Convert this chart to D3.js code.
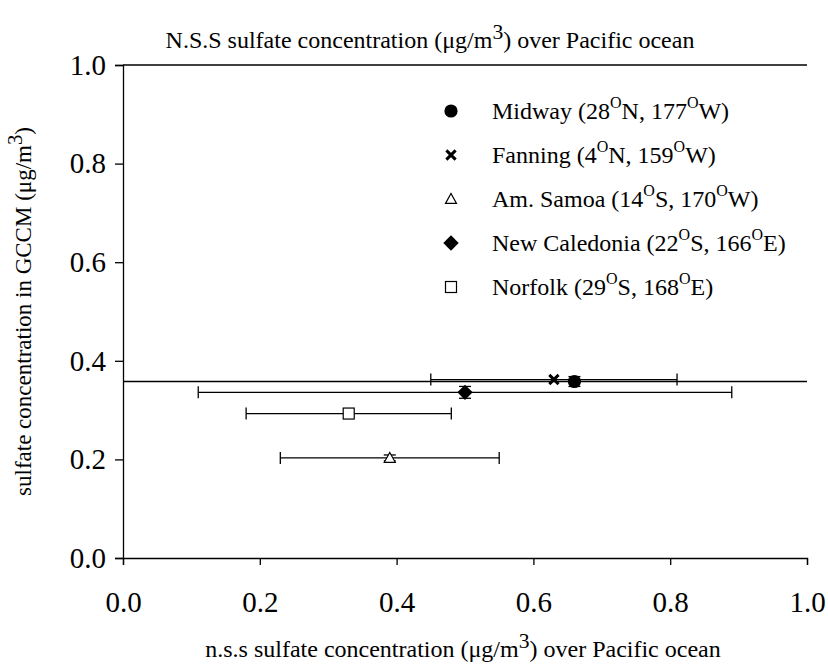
<!DOCTYPE html>
<html>
<head>
<meta charset="utf-8">
<script src="https://cdn.jsdelivr.net/npm/d3@7"></script>
<style>
  body { margin: 0; background: #fff; }
  text { font-family: "Liberation Serif", "Times New Roman", serif !important; }
</style>
</head>
<body>
<svg id="chart"></svg>
<script>
const width = 828;
const height = 670;
const plotLeft = 123, plotRight = 807, plotTop = 65, plotBottom = 558;
const serif = '"Liberation Serif", "Times New Roman", serif';

// sites
const siteNames = ['Midway', 'Fanning', 'Am. Samoa', 'New Caledonia', 'Norfolk'];
const latValues = ['28', '4', '14', '22', '29'];
const latDirs = ['N', 'N', 'S', 'S', 'S'];
const lonValues = ['177', '159', '170', '166', '168'];
const lonDirs = ['W', 'W', 'W', 'E', 'E'];
const markerTypes = ['circle', 'cross', 'triangle', 'diamond', 'square'];

// observed (x) vs model (y)
const observed = [0.66, 0.63, 0.39, 0.50, 0.33];
const modelled = [0.358, 0.362, 0.203, 0.336, 0.293];
const obsLow = [null, 0.45, 0.23, 0.11, 0.18];
const obsHigh = [null, 0.81, 0.55, 0.89, 0.48];
const modelErr = [0.010, 0, 0.006, 0.012, 0];
const refLevel = 0.358;

const xTicks = [0, 0.2, 0.4, 0.6, 0.8, 1.0];
const yTicks = [0, 0.2, 0.4, 0.6, 0.8, 1.0];

const svg = d3.select('#chart').attr('width', width).attr('height', height)
  .attr('font-family', serif);

const x = d3.scaleLinear().domain([0, 1]).range([plotLeft, plotRight]);
const y = d3.scaleLinear().domain([0, 1]).range([plotBottom, plotTop]);

const data = siteNames.map((name, i) => ({
  name, lat: latValues[i], latDir: latDirs[i], lon: lonValues[i], lonDir: lonDirs[i],
  type: markerTypes[i], ox: observed[i], my: modelled[i],
  lo: obsLow[i], hi: obsHigh[i], ye: modelErr[i]
}));

// axes
const xAxis = svg.append('g').attr('transform', `translate(0, ${plotBottom})`)
  .call(d3.axisBottom(x).tickValues(xTicks).tickFormat(d3.format('.1f')).tickSizeOuter(0).tickSize(7).tickPadding(26));
const yAxis = svg.append('g').attr('transform', `translate(${plotLeft}, 0)`)
  .call(d3.axisLeft(y).tickValues(yTicks).tickFormat(d3.format('.1f')).tickSizeOuter(0).tickSize(8).tickPadding(9));
[xAxis, yAxis].forEach(a => {
  a.attr('font-family', serif).attr('font-size', 29);
  a.selectAll('path, line').attr('stroke', '#000').attr('stroke-width', 1.3);
});

// top frame line
svg.append('line')
  .attr('x1', x(0)).attr('x2', x(1)).attr('y1', y(1)).attr('y2', y(1))
  .attr('stroke', '#000').attr('stroke-width', 1.5);

// reference level
svg.append('line')
  .attr('x1', x(0)).attr('x2', x(1)).attr('y1', y(refLevel)).attr('y2', y(refLevel))
  .attr('stroke', '#000').attr('stroke-width', 1.5);

// horizontal error bars
const capH = 6;
const eb = svg.append('g').attr('stroke', '#000').attr('stroke-width', 1.3);
data.filter(d => d.lo !== null).forEach(d => {
  eb.append('line').attr('x1', x(d.lo)).attr('x2', x(d.hi)).attr('y1', y(d.my)).attr('y2', y(d.my));
  eb.append('line').attr('x1', x(d.lo)).attr('x2', x(d.lo)).attr('y1', y(d.my) - capH).attr('y2', y(d.my) + capH);
  eb.append('line').attr('x1', x(d.hi)).attr('x2', x(d.hi)).attr('y1', y(d.my) - capH).attr('y2', y(d.my) + capH);
});
// small vertical error bars
data.filter(d => d.ye > 0).forEach(d => {
  const cx = x(d.ox);
  eb.append('line').attr('x1', cx).attr('x2', cx).attr('y1', y(d.my - d.ye)).attr('y2', y(d.my + d.ye));
  [d.my - d.ye, d.my + d.ye].forEach(v => {
    eb.append('line').attr('x1', cx - 6).attr('x2', cx + 6).attr('y1', y(v)).attr('y2', y(v));
  });
});

function drawMarker(g, type, cx, cy, s) {
  if (type === 'circle') {
    g.append('circle').attr('cx', cx).attr('cy', cy).attr('r', s * 0.6).attr('fill', '#000');
  } else if (type === 'cross') {
    const h = s * 0.42;
    g.append('path').attr('d', `M${cx - h},${cy - h}L${cx + h},${cy + h}M${cx - h},${cy + h}L${cx + h},${cy - h}`)
      .attr('stroke', '#000').attr('stroke-width', 3).attr('fill', 'none');
  } else if (type === 'triangle') {
    const h = s * 0.5;
    g.append('path').attr('d', `M${cx},${cy - h}L${cx + h},${cy + h * 0.8}L${cx - h},${cy + h * 0.8}Z`)
      .attr('stroke', '#000').attr('stroke-width', 1.2).attr('fill', '#fff');
  } else if (type === 'diamond') {
    const h = s * 0.7;
    g.append('path').attr('d', `M${cx},${cy - h}L${cx + h},${cy}L${cx},${cy + h}L${cx - h},${cy}Z`).attr('fill', '#000');
  } else if (type === 'square') {
    const h = s * 0.5;
    g.append('rect').attr('x', cx - h).attr('y', cy - h).attr('width', 2 * h).attr('height', 2 * h)
      .attr('stroke', '#000').attr('stroke-width', 1.2).attr('fill', '#fff');
  }
}

const points = svg.append('g');
data.forEach(d => drawMarker(points, d.type, x(d.ox), y(d.my), 11));

// legend
const legend = svg.append('g').attr('font-size', 24);
const legX = 451, legY = 111, legStep = 44;
data.forEach((d, i) => {
  const ly = legY + i * legStep;
  drawMarker(legend, d.type, legX, ly, 11);
  const t = legend.append('text').attr('x', legX + 41).attr('y', ly + 8);
  t.append('tspan').text(`${d.name} (${d.lat}`);
  t.append('tspan').attr('dy', -11).attr('font-size', 16).text('O');
  t.append('tspan').attr('dy', 11).text(`${d.latDir}, ${d.lon}`);
  t.append('tspan').attr('dy', -11).attr('font-size', 16).text('O');
  t.append('tspan').attr('dy', 11).text(`${d.lonDir})`);
});

// titles
function supTitle(sel, before, sup, after, size) {
  sel.attr('font-size', size);
  sel.append('tspan').text(before);
  sel.append('tspan').attr('dy', -9).attr('font-size', size * 0.9).text(sup);
  sel.append('tspan').attr('dy', 9).text(after);
}
const title = svg.append('text').attr('x', 430).attr('y', 48).attr('text-anchor', 'middle');
supTitle(title, 'N.S.S sulfate concentration (μg/m', '3', ') over Pacific ocean', 24);

const xTitle = svg.append('text').attr('x', 463).attr('y', 657).attr('text-anchor', 'middle');
supTitle(xTitle, 'n.s.s sulfate concentration (μg/m', '3', ') over Pacific ocean', 24);

const yTitle = svg.append('text').attr('transform', `translate(31, ${(plotTop + plotBottom) / 2}) rotate(-90)`)
  .attr('text-anchor', 'middle');
supTitle(yTitle, 'sulfate concentration in GCCM (μg/m', '3', ')', 23);
</script>
</body>
</html>
